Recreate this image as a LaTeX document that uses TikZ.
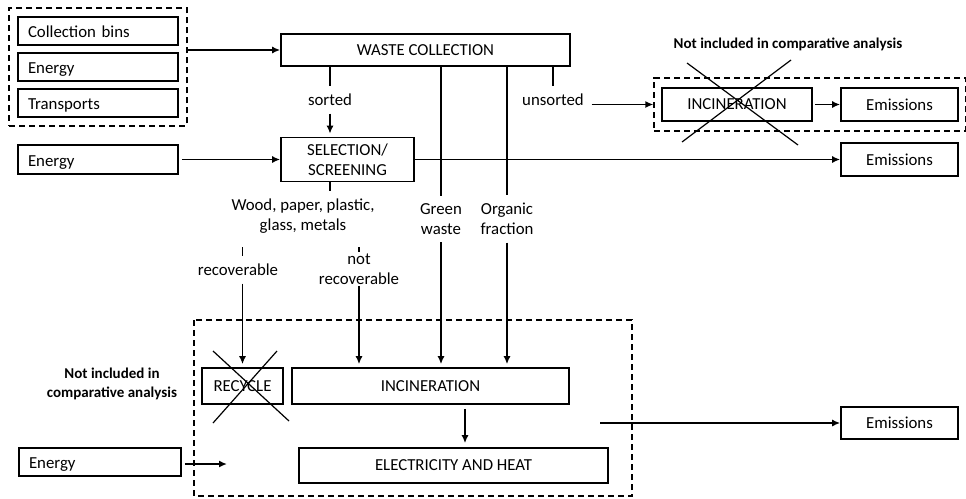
\documentclass[tikz,border=0pt]{standalone}
\usepackage{fontspec}
\setmainfont{Carlito}
\usetikzlibrary{arrows.meta,fit}

\begin{document}
\begin{tikzpicture}[x=1pt,y=-1pt,line width=1.6pt,>={Latex[length=8pt,width=7pt]},
	font=\fontsize{16.8}{20}\selectfont,
	lbox/.style={draw,minimum height=28pt,text width=140pt,text height=14pt,text depth=1pt,inner xsep=10pt,inner ysep=0pt,align=left},
	cbox/.style 2 args={draw,minimum width=#1,minimum height=#2,inner sep=0pt,align=center},
	lbl/.style={inner sep=7pt,align=center},
	grp/.style={draw,dash pattern=on 6pt off 4pt},
	note/.style={font=\fontsize{15}{19}\selectfont\bfseries,align=center},
	cross/.style={line width=1.2pt},
	vt/.style={shorten >=3pt}]
	\useasboundingbox (0,0) rectangle (966,498);
	% inputs
	\node[lbox] (bins) at (98,31) {Collection bins};
	\node[lbox] (en1) at (98,67) {Energy};
	\node[lbox] (trans) at (98,103) {Transports};
	\node[grp,fit=(bins)(trans),inner sep=8pt] (inputs) {};
	\node[lbox,minimum height=29pt] (en2) at (98,159.5) {Energy};
	\node[lbox,text width=142pt] (en3) at (100,462) {Energy};
	% process boxes
	\node[cbox={289pt}{32pt}] (wc) at (425.5,50) {WASTE COLLECTION};
	\node[cbox={133pt}{44pt}] (sel) at (347.5,159.5) {SELECTION/\\SCREENING};
	\node[cbox={150pt}{33pt}] (inc1) at (737,104.5) {INCINERATION};
	\node[cbox={117pt}{33pt}] (em1) at (899.5,104.5) {Emissions};
	\node[grp,fit=(inc1)(em1),inner xsep=7pt,inner ysep=9pt] (excl) {};
	\node[cbox={117pt}{33pt}] (em2) at (899.5,159.5) {Emissions};
	\node[cbox={81pt}{36pt}] (rec) at (242.5,386) {RECYCLE};
	\node[cbox={277pt}{36pt}] (inc2) at (430.5,386) {INCINERATION};
	\node[cbox={309pt}{35pt}] (eh) at (453.5,465.5) {ELECTRICITY AND HEAT};
	\node[cbox={117pt}{32pt}] (em3) at (899.5,423) {Emissions};
	\draw[grp] (194,320) rectangle (632,496);
	% flow labels
	\node[lbl] (sorted) at (330,100) {sorted};
	\node[lbl] (unsorted) at (553,100) {unsorted};
	\node[lbl] (wood) at (303,216) {Wood, paper, plastic,\\glass, metals};
	\node[lbl] (green) at (441,219) {Green\\waste};
	\node[lbl] (organic) at (507,219) {Organic\\fraction};
	\node[lbl] (recov) at (238,270) {recoverable};
	\node[lbl,inner ysep=1pt] (notrec) at (359,269) {not\\recoverable};
	\node[note] (note1) at (788,44) {Not included in comparative analysis};
	\node[note] (note2) at (112,384) {Not included in\\comparative analysis};
	% connectors
	\draw[->] (inputs.east |- wc.west) -- (wc.west);
	\draw (wc.south -| sorted) -- (sorted.north);
	\draw[->,vt] (sorted.south) -- (sel.north -| sorted);
	\draw (wc.south -| unsorted) -- (unsorted.north);
	\draw[->] (unsorted.east |- inc1) -- (excl.west |- inc1);
	\draw[->,shorten <=2pt] (inc1.east) -- (em1.west);
	\draw[->,shorten <=3pt] (en2.east) -- (sel.west);
	\draw[->] (sel.east) -- (em2.west);
	\draw (wc.south -| green) -- (green.north);
	\draw[->,vt] (green.south) -- (inc2.north -| green);
	\draw (wc.south -| organic) -- (organic.north);
	\draw[->,vt] (organic.south) -- (inc2.north -| organic);
	\draw (sel.south -| sorted) -- (wood.north -| sorted);
	\draw[shorten <=6pt] (wood.south -| rec) -- (recov.north -| rec);
	\draw[->,vt] (recov.south -| rec) -- (rec.north);
	\draw[shorten <=6pt] (wood.south -| notrec) -- (notrec.north);
	\draw[->,vt] (notrec.south) -- (inc2.north -| notrec);
	\draw[->,shorten <=4pt,shorten >=4pt] ([xshift=34.5pt]inc2.south) -- ([xshift=34.5pt]inc2.south |- eh.north);
	\coordinate (heat) at (600,423);
	\draw[->] (heat) -- (em3.west);
	\coordinate (enin) at (227,464);
	\draw[->,shorten <=3pt] (en3.east |- enin) -- (enin);
	% excluded steps
	\draw[cross] (687,63) -- (798,145) (791,60) -- (682,142);
	\draw[cross] (213,351) -- (289,421) (277,351) -- (213,423);
\end{tikzpicture}
\end{document}
